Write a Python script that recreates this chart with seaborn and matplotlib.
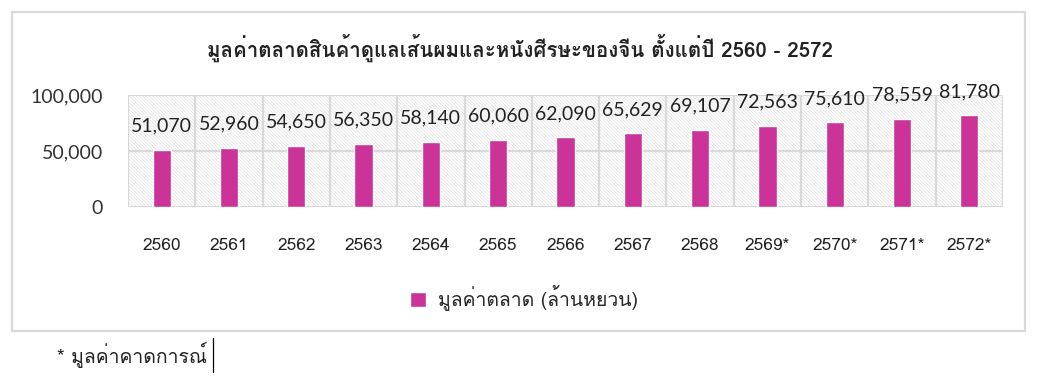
import matplotlib
matplotlib.use("Agg")
import matplotlib.pyplot as plt
from matplotlib import font_manager, ft2font
from matplotlib.patches import Rectangle
from matplotlib.lines import Line2D
import seaborn as sns
import pandas as pd

# ---------------- data ----------------
years = ["2560", "2561", "2562", "2563", "2564", "2565", "2566", "2567",
         "2568", "2569*", "2570*", "2571*", "2572*"]
market_value = [51070, 52960, 54650, 56350, 58140, 60060, 62090, 65629,
                69107, 72563, 75610, 78559, 81780]
y_ticks = [0, 50000, 100000]
title = "มูลค่าตลาดสินค้าดูแลเส้นผมและหนังศีรษะของจีน ตั้งแต่ปี 2560 - 2572"
series_label = "มูลค่าตลาด (ล้านหยวน)"
footnote = "* มูลค่าคาดการณ์"

# ---------------- fonts ----------------
thai_font = None
for f in font_manager.fontManager.ttflist:
    try:
        cm = ft2font.FT2Font(f.fname).get_charmap()
        if 0x0E21 in cm and 0x0E39 in cm and 0x0E48 in cm:
            thai_font = f.name
            break
    except Exception:
        pass

sns.set_theme(style="white")
fam_thai = ([thai_font] if thai_font else []) + ["DejaVu Sans"]
fam_num = ["Lato", "DejaVu Sans"]
plt.rcParams["font.family"] = fam_thai
plt.rcParams["hatch.linewidth"] = 0.5

df = pd.DataFrame({"year": years, "value": market_value})

W, H = 1062, 385
fig = plt.figure(figsize=(W / 100, H / 100), dpi=100)
ax = fig.add_axes([128 / W, 1 - 207 / H, 875 / W, 112 / H])

# hatched plot-area background
ax.add_patch(Rectangle((0, 0), 1, 1, transform=ax.transAxes, facecolor="white",
                       edgecolor="#e0e0e0", hatch="\\" * 10, linewidth=0, zorder=0))

sns.barplot(data=df, x="year", y="value", color="#CC3399", width=0.27,
            saturation=1, ax=ax, label=series_label, zorder=3)

ax.set_ylim(0, 100000)
ax.set_xlim(-0.5, len(years) - 0.5)
ax.set_yticks(y_ticks)
ax.set_yticklabels([f"{v:,}" for v in y_ticks], family=fam_num, fontsize=14, color="#333333")
ax.set_xticks(range(len(years)))
ax.set_xticklabels(years, fontsize=12.5, color="#222222")
ax.tick_params(axis="y", length=0, pad=18)
ax.tick_params(axis="x", length=0, pad=22)
ax.set_xlabel("")
ax.set_ylabel("")

# grid lines
for yv in y_ticks:
    ax.axhline(yv, color="#d9d9d9", lw=1.6, zorder=1)
for i in range(len(years) + 1):
    ax.axvline(i - 0.5, color="#d9d9d9", lw=1.6, zorder=1)
for s in ax.spines.values():
    s.set_visible(False)

# data labels
for cont in ax.containers:
    ax.bar_label(cont, labels=[f"{v:,}" for v in market_value], padding=11,
                 fontsize=14, family=fam_num, color="#222222")

# title
fig.text(520 / W, 1 - 48 / H, title, ha="center", va="center",
         fontsize=14.8, fontweight="bold", color="#222222")

# legend
leg = ax.legend(loc="center", bbox_to_anchor=(524 / W, 1 - 298 / H),
                bbox_transform=fig.transFigure, frameon=False, fontsize=14,
                handlelength=0.8, handleheight=0.8, handletextpad=0.6)

# outer chart border
fig.add_artist(Rectangle((12 / W, 1 - 331 / H), (1025 - 12) / W, (331 - 12) / H,
                         transform=fig.transFigure, fill=False,
                         edgecolor="#d9d9d9", linewidth=1.6))

# footnote
fig.text(57 / W, 1 - 355 / H, footnote, ha="left", va="center", fontsize=14, color="#222222")
fig.add_artist(Line2D([213 / W, 213 / W], [1 - 372 / H, 1 - 338 / H],
                      transform=fig.transFigure, color="black", lw=0.9))

fig.savefig("out.png", dpi=100)
